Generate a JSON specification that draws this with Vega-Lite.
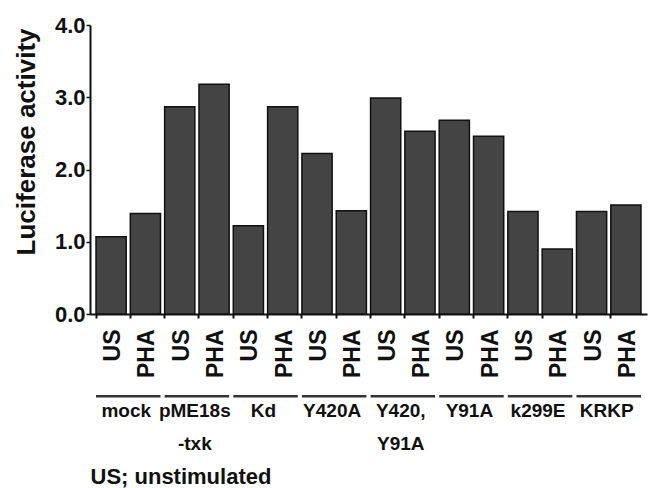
{
  "$schema": "https://vega.github.io/schema/vega-lite/v6.json",
  "width": 557,
  "height": 289,
  "autosize": "none",
  "padding": {"left": 90, "top": 25, "right": 1, "bottom": 174},
  "background": "white",
  "config": {"font": "Liberation Sans", "view": {"stroke": null}},
  "datasets": {
    "bars": [
      {"key": "mock|US", "value": 1.07},
      {"key": "mock|PHA", "value": 1.39},
      {"key": "pME18s-txk|US", "value": 2.87},
      {"key": "pME18s-txk|PHA", "value": 3.18},
      {"key": "Kd|US", "value": 1.22},
      {"key": "Kd|PHA", "value": 2.87},
      {"key": "Y420A|US", "value": 2.22},
      {"key": "Y420A|PHA", "value": 1.43},
      {"key": "Y420,Y91A|US", "value": 2.99},
      {"key": "Y420,Y91A|PHA", "value": 2.53},
      {"key": "Y91A|US", "value": 2.68},
      {"key": "Y91A|PHA", "value": 2.46},
      {"key": "k299E|US", "value": 1.42},
      {"key": "k299E|PHA", "value": 0.9},
      {"key": "KRKP|US", "value": 1.42},
      {"key": "KRKP|PHA", "value": 1.51}
    ],
    "groups": [
      {"name": "mock", "us": "mock|US", "pha": "mock|PHA"},
      {"name": "pME18s\n-txk", "us": "pME18s-txk|US", "pha": "pME18s-txk|PHA"},
      {"name": "Kd", "us": "Kd|US", "pha": "Kd|PHA"},
      {"name": "Y420A", "us": "Y420A|US", "pha": "Y420A|PHA"},
      {"name": "Y420,\nY91A", "us": "Y420,Y91A|US", "pha": "Y420,Y91A|PHA"},
      {"name": "Y91A", "us": "Y91A|US", "pha": "Y91A|PHA"},
      {"name": "k299E", "us": "k299E|US", "pha": "k299E|PHA"},
      {"name": "KRKP", "us": "KRKP|US", "pha": "KRKP|PHA"}
    ]
  },
  "layer": [
    {
      "data": {"name": "bars"},
      "mark": {"type": "bar", "fill": "#444444", "stroke": "#111111", "strokeWidth": 1.5},
      "encoding": {
        "x": {
          "field": "key",
          "type": "nominal",
          "scale": {
            "domain": ["mock|US", "mock|PHA", "pME18s-txk|US", "pME18s-txk|PHA", "Kd|US", "Kd|PHA", "Y420A|US", "Y420A|PHA", "Y420,Y91A|US", "Y420,Y91A|PHA", "Y91A|US", "Y91A|PHA", "k299E|US", "k299E|PHA", "KRKP|US", "KRKP|PHA"],
            "paddingInner": 0.12,
            "paddingOuter": 0.175
          },
          "axis": {
            "title": "US; unstimulated",
            "titleFontSize": 22,
            "titleFontWeight": "bold",
            "titleColor": "#111111",
            "titleAnchor": "start",
            "titleAlign": "left",
            "titleBaseline": "alphabetic",
            "titleX": 0,
            "titleY": 169,
            "labelExpr": "split(datum.label, '|')[1]",
            "labelAngle": 270,
            "labelAlign": "right",
            "labelBaseline": "middle",
            "labelFontSize": 23,
            "labelFontWeight": "bold",
            "labelColor": "#111111",
            "labelPadding": 11,
            "labelOffset": 2,
            "labelOverlap": false,
            "bandPosition": 0,
            "tickSize": 4,
            "tickWidth": 2,
            "tickColor": "#111111",
            "domainColor": "#111111",
            "domainWidth": 2,
            "grid": false
          }
        },
        "y": {
          "field": "value",
          "type": "quantitative",
          "scale": {"domain": [0, 4], "nice": false},
          "axis": {
            "title": "Luciferase activity",
            "titleFontSize": 26,
            "titleFontWeight": "bold",
            "titleColor": "#111111",
            "titleAngle": 270,
            "titleAlign": "right",
            "titleBaseline": "alphabetic",
            "titleX": -56,
            "titleY": 3,
            "values": [0, 0.25, 0.5, 0.75, 1, 1.25, 1.5, 1.75, 2, 2.25, 2.5, 2.75, 3, 3.25, 3.5, 3.75, 4],
            "labelExpr": "datum.value % 1 === 0 ? format(datum.value, '.1f') : ''",
            "labelFontSize": 22,
            "labelFontWeight": "bold",
            "labelColor": "#111111",
            "labelPadding": 1,
            "tickSize": 4,
            "tickWidth": 1.5,
            "tickColor": "#111111",
            "domainColor": "#111111",
            "domainWidth": 2,
            "grid": false
          }
        }
      }
    },
    {
      "data": {"name": "groups"},
      "mark": {"type": "rule", "stroke": "#333333", "strokeWidth": 2.5},
      "encoding": {
        "x": {"field": "us", "type": "nominal", "bandPosition": 0},
        "x2": {"field": "pha", "bandPosition": 1},
        "y": {"datum": -1.14}
      }
    },
    {
      "data": {"name": "groups"},
      "mark": {"type": "text", "fontSize": 19, "fontWeight": "bold", "color": "#111111", "align": "center", "baseline": "alphabetic", "lineBreak": "\n", "lineHeight": 33},
      "encoding": {
        "x": {"field": "us", "type": "nominal", "bandPosition": 1},
        "y": {"datum": -1.43},
        "text": {"field": "name"}
      }
    }
  ]
}
